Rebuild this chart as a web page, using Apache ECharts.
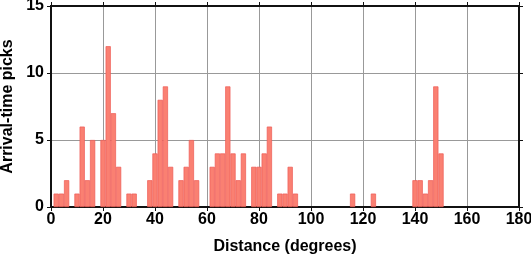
<!DOCTYPE html>
<html>
<head>
<meta charset="utf-8">
<script src="https://cdn.jsdelivr.net/npm/echarts@6/dist/echarts.min.js"></script>
<style>
  html, body { margin: 0; padding: 0; background: #fff; overflow: hidden; }
  #chart { width: 531px; height: 258px; }
</style>
</head>
<body>
<div id="chart"></div>
<script>
// 2-degree distance bins (centres) and pick counts
const binCenters = [2, 4, 6, 10, 12, 14, 16, 20, 22, 24, 26, 30, 32, 38, 40, 42, 44, 46,
  50, 52, 54, 56, 62, 64, 66, 68, 70, 72, 74, 78, 80, 82, 84, 88, 90, 92, 94,
  116, 124, 140, 142, 144, 146, 148, 150]
const pickCounts = [1, 1, 2, 1, 6, 2, 5, 5, 12, 7, 3, 1, 1, 2, 4, 8, 9, 3,
  2, 3, 5, 2, 3, 4, 4, 9, 4, 2, 4, 3, 3, 4, 6, 1, 1, 3, 1,
  1, 1, 2, 2, 1, 2, 9, 4]
const xTicks = [0, 20, 40, 60, 80, 100, 120, 140, 160, 180]
const yTicks = [0, 5, 10, 15]

const xMin = xTicks[0], xMax = xTicks[xTicks.length - 1]
const yMin = yTicks[0], yMax = yTicks[yTicks.length - 1]
const font = 'Liberation Sans, Arial, sans-serif'
const chart = echarts.init(document.getElementById('chart'))

const frameLine = () => ({ show: true, onZero: false, lineStyle: { color: '#111', width: 2 } })
const outTick = () => ({ show: true, inside: false, length: 4, lineStyle: { color: '#111', width: 1 } })
const labelStyle = (margin) => ({ fontFamily: font, fontWeight: 'bold', fontSize: 16, color: '#000', margin })
const nameStyle = () => ({ fontFamily: font, fontWeight: 'bold', fontSize: 16, color: '#000' })
const gridLine = () => ({ show: true, lineStyle: { color: '#999', width: 1 } })

chart.setOption({
  animation: false,
  grid: {
    left: 51, right: 12, top: 6, bottom: 51,
    outerBounds: { left: -60, right: -60, top: -60, bottom: -60 },
    outerBoundsContain: 'axisLabel',
    show: true, borderColor: '#111', borderWidth: 2,
  },
  xAxis: [{
    type: 'value', min: xMin, max: xMax, interval: 20,
    name: 'Distance (degrees)', nameLocation: 'middle', nameGap: 32,
    nameTextStyle: nameStyle(),
    axisLine: frameLine(), axisTick: outTick(),
    axisLabel: labelStyle(5),
    splitLine: gridLine(),
  }, {
    type: 'value', position: 'top', min: xMin, max: xMax, interval: 20,
    axisLine: frameLine(), axisTick: outTick(),
    axisLabel: { show: false }, splitLine: { show: false },
  }],
  yAxis: [{
    type: 'value', min: yMin, max: yMax, interval: 5,
    name: 'Arrival-time picks', nameLocation: 'middle', nameGap: 31,
    nameTextStyle: nameStyle(),
    axisLine: frameLine(), axisTick: outTick(),
    axisLabel: labelStyle(7),
    splitLine: gridLine(),
  }, {
    type: 'value', position: 'right', min: yMin, max: yMax, interval: 5,
    axisLine: frameLine(), axisTick: outTick(),
    axisLabel: { show: false }, splitLine: { show: false },
  }],
  series: [{
    type: 'bar',
    // on a value axis the band is the smallest gap between bins (2 degrees)
    barWidth: '100%',
    data: binCenters.map((c, i) => [c, pickCounts[i]]),
    itemStyle: { color: '#fa8072', borderColor: '#ee5a55', borderWidth: 0.7 },
  }],
})
</script>
</body>
</html>
